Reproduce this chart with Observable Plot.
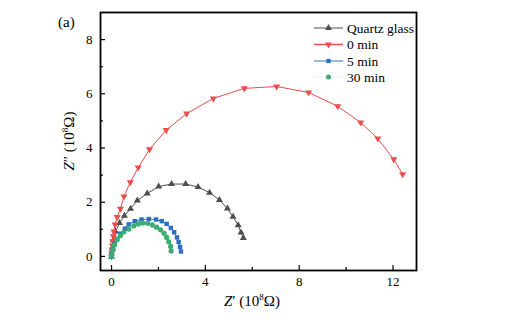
<!DOCTYPE html>
<html><head><meta charset="utf-8">
<script src="https://cdn.jsdelivr.net/npm/d3@7"></script>
<script src="https://cdn.jsdelivr.net/npm/@observablehq/plot@0.6"></script>
<style>body{margin:0;background:#fff;} svg{display:block}</style>
</head><body><div id="chart"></div>
<script>
const seriesNames = ["Quartz glass", "0 min", "5 min", "30 min"];
const seriesColors = ["#4d4d4d", "#ee4b4b", "#2c6fbd", "#3aae72"];

const quartzX = [0, 0.04, 0.08, 0.17, 0.34, 0.55, 0.81, 1.10, 1.52, 2.01, 2.56, 3.16, 3.69, 4.18, 4.60, 4.94, 5.18, 5.40, 5.52, 5.62];
const quartzY = [0, 0.30, 0.60, 0.92, 1.23, 1.50, 1.76, 2.06, 2.32, 2.58, 2.67, 2.67, 2.56, 2.35, 2.08, 1.77, 1.46, 1.15, 0.88, 0.68];

const min0X = [0.0, 0.01, 0.02, 0.04, 0.06, 0.08, 0.10, 0.15, 0.24, 0.38, 0.53, 0.80, 1.14, 1.62, 2.33, 3.20, 4.34, 5.66, 7.04, 8.40, 9.64, 10.62, 11.35, 12.03, 12.41];
const min0Y = [0.0, 0.12, 0.25, 0.40, 0.56, 0.74, 0.92, 1.18, 1.45, 1.76, 2.21, 2.74, 3.28, 3.95, 4.66, 5.27, 5.83, 6.20, 6.27, 6.05, 5.54, 4.94, 4.35, 3.58, 3.03];

const min5X = [0.0, 0.01, 0.06, 0.13, 0.24, 0.38, 0.57, 0.73, 0.99, 1.28, 1.59, 1.90, 2.14, 2.35, 2.53, 2.67, 2.79, 2.86, 2.92, 2.96];
const min5Y = [0.0, 0.10, 0.28, 0.47, 0.65, 0.84, 1.02, 1.18, 1.30, 1.36, 1.38, 1.36, 1.30, 1.20, 1.05, 0.89, 0.70, 0.53, 0.35, 0.18];

const min30X = [0.0, 0.01, 0.06, 0.13, 0.24, 0.38, 0.53, 0.74, 0.95, 1.15, 1.34, 1.54, 1.74, 1.92, 2.09, 2.24, 2.35, 2.44, 2.52, 2.54];
const min30Y = [0.0, 0.07, 0.25, 0.43, 0.62, 0.77, 0.90, 1.01, 1.13, 1.20, 1.23, 1.22, 1.16, 1.08, 0.98, 0.85, 0.70, 0.54, 0.37, 0.20];

const xMajorTicks = [0, 4, 8, 12];
const xMinorTicks = [2, 6, 10];
const yMajorTicks = [0, 2, 4, 6, 8];
const yMinorTicks = [1, 3, 5, 7];

function rows(xs, ys, name) { return xs.map((x, i) => ({x, y: ys[i], series: name})); }
const quartz = rows(quartzX, quartzY, seriesNames[0]);
const m0 = rows(min0X, min0Y, seriesNames[1]);
const m5 = rows(min5X, min5Y, seriesNames[2]);
const m30 = rows(min30X, min30Y, seriesNames[3]);

const svg = Plot.plot({
  width: 506, height: 322,
  marginLeft: 100, marginRight: 90, marginTop: 12, marginBottom: 52,
  style: {fontFamily: "Liberation Serif, Times New Roman, serif", fontSize: "13px", color: "#000", background: "#fff"},
  x: {domain: [-0.47, 13.0], label: null},
  y: {domain: [-0.52, 9.0], label: null},
  marks: [
    Plot.line(quartz, {x: "x", y: "y", stroke: seriesColors[0], strokeWidth: 1}),
    Plot.dot(quartz, {x: "x", y: "y", symbol: "triangle", r: 2.6, fill: seriesColors[0], stroke: "none"}),
    Plot.line(m0, {x: "x", y: "y", stroke: seriesColors[1], strokeWidth: 1}),
    Plot.dot(m0, {x: "x", y: "y", symbol: "triangle", rotate: 180, r: 2.6, fill: seriesColors[1], stroke: "none"}),
    Plot.line(m5, {x: "x", y: "y", stroke: seriesColors[2], strokeWidth: 1}),
    Plot.dot(m5, {x: "x", y: "y", symbol: "square", r: 2.5, fill: seriesColors[2], stroke: "none"}),
    Plot.line(m30, {x: "x", y: "y", stroke: seriesColors[3], strokeWidth: 0.6, strokeOpacity: 0.4}),
    Plot.dot(m30, {x: "x", y: "y", symbol: "circle", r: 2.6, fill: seriesColors[3], stroke: "none"}),
    Plot.axisX({ticks: xMajorTicks, tickSize: -5, tickPadding: 11, tickFormat: d => String(d), stroke: "#000", strokeWidth: 1.2}),
    Plot.axisX({ticks: xMinorTicks, tickSize: -3, tickFormat: () => "", stroke: "#000", strokeWidth: 1.2}),
    Plot.axisY({ticks: yMajorTicks, tickSize: -5, tickPadding: 13, tickFormat: d => String(d), stroke: "#000", strokeWidth: 1.2}),
    Plot.axisY({ticks: yMinorTicks, tickSize: -3, tickFormat: () => "", stroke: "#000", strokeWidth: 1.2}),
    Plot.frame({stroke: "#000", strokeWidth: 1.8})
  ]
});
document.getElementById("chart").appendChild(svg);

const s = d3.select(svg);
const font = "Liberation Serif, Times New Roman, serif";
// panel label
s.append("text").attr("x", 58).attr("y", 27).attr("text-anchor", "start").attr("font-family", font).attr("font-size", 15).attr("fill", "#000").text("(a)");
// x title
const xt = s.append("text").attr("x", 252).attr("y", 306).attr("text-anchor", "middle").attr("font-family", font).attr("font-size", 15).attr("fill", "#000");
xt.append("tspan").attr("font-style", "italic").text("Z");
xt.append("tspan").text("\u2032 (10");
xt.append("tspan").attr("font-size", 9).attr("dy", -6).text("8");
xt.append("tspan").attr("dy", 6).text("\u03A9)");
// y title
const yt = s.append("text").attr("transform", "translate(74,141) rotate(-90)").attr("text-anchor", "middle").attr("font-family", font).attr("font-size", 15).attr("fill", "#000");
yt.append("tspan").attr("font-style", "italic").text("Z");
yt.append("tspan").text("\u2033 (10");
yt.append("tspan").attr("font-size", 9).attr("dy", -6).text("8");
yt.append("tspan").attr("dy", 6).text("\u03A9)");
// legend
const legendSymbols = [d3.symbolTriangle, d3.symbolTriangle, d3.symbolSquare, d3.symbolCircle];
const legendRot = [0, 180, 0, 0];
const legendRowY = [28, 44.5, 61, 77];
const lg = s.append("g");
seriesNames.forEach((name, i) => {
  const y = legendRowY[i];
  lg.append("line").attr("x1", 314).attr("x2", 343).attr("y1", y).attr("y2", y)
    .attr("stroke", seriesColors[i]).attr("stroke-width", i === 1 ? 1.5 : 1).attr("stroke-opacity", i === 3 ? 0.15 : 1);
  lg.append("path").attr("d", d3.symbol(legendSymbols[i], i === 2 ? 18 : 20)())
    .attr("transform", `translate(328.5,${y}) rotate(${legendRot[i]})`).attr("fill", seriesColors[i]);
  lg.append("text").attr("x", 347).attr("y", y + 4.5).attr("text-anchor", "start").attr("font-family", font).attr("font-size", 13.5).attr("fill", "#000").text(name);
});
</script>
</body></html>
